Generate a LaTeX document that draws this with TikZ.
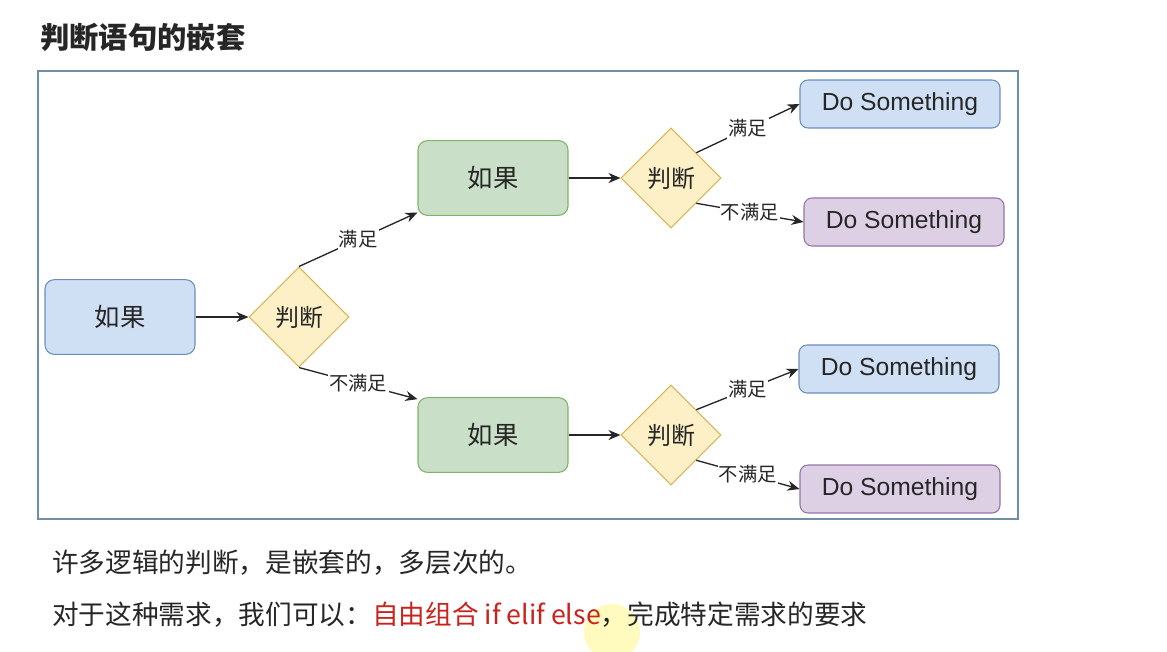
\documentclass[tikz,border=0pt]{standalone}
\usepackage{fontspec}
\setmainfont{Noto Sans CJK SC}
\newfontfamily\latinsans{Liberation Sans}
\usetikzlibrary{shapes.geometric,arrows.meta}
\definecolor{bluefill}{HTML}{D0E0F4}
\definecolor{bluedraw}{HTML}{6C8EBF}
\definecolor{greenfill}{HTML}{C9DFC8}
\definecolor{greendraw}{HTML}{82B366}
\definecolor{purplefill}{HTML}{DDD0E4}
\definecolor{purpledraw}{HTML}{9673A6}
\definecolor{yellowfill}{HTML}{FDEFC6}
\definecolor{yellowdraw}{HTML}{D6B656}
\definecolor{framecol}{HTML}{6F8FA8}
\definecolor{txt}{HTML}{262626}
\definecolor{redtxt}{HTML}{C8231C}
\tikzset{
  ifbox/.style={draw, rounded corners=7pt, line width=0.8pt, minimum width=112.5pt, minimum height=56pt, font=\fontsize{19}{22}\selectfont, text=txt},
  condbox/.style={draw=yellowdraw, fill=yellowfill, diamond, aspect=1, inner sep=0pt, line width=0.8pt, minimum width=75pt, minimum height=75pt, font=\fontsize{18}{21}\selectfont, text=txt},
  dobox/.style={draw, rounded corners=6pt, line width=0.8pt, minimum width=150pt, minimum height=36pt, font=\latinsans\fontsize{18.5}{21}\selectfont, text=txt},
  conn/.style={draw=black!85, line width=1pt, -{Stealth[length=9pt,width=7.5pt]}},
  lbl/.style={fill=white, inner sep=1pt, font=\fontsize{14.5}{16}\selectfont, text=txt}
}
\begin{document}
\begin{tikzpicture}[x=0.75pt,y=-0.75pt]
\useasboundingbox (0,0) rectangle (1167,651);
\fill[white] (0,0) rectangle (1167,651);
% title
\node[anchor=west, inner sep=0pt, font=\bfseries\fontsize{22}{26}\selectfont, text=txt] (title) at (40,37) {判断语句的嵌套};
% frame
\draw[framecol, line width=1.1pt] (38,71) rectangle (1018,519);
% nodes
\node[ifbox, draw=bluedraw, fill=bluefill] (b1) at (120,317) {如果};
\node[condbox] (d1) at (299,317) {判断};
\node[ifbox, draw=greendraw, fill=greenfill] (b2) at (493,178) {如果};
\node[ifbox, draw=greendraw, fill=greenfill] (b3) at (493,435) {如果};
\node[condbox] (d2) at (671,178) {判断};
\node[condbox] (d3) at (671,435) {判断};
\node[dobox, draw=bluedraw, fill=bluefill] (s1) at (900,104) {Do Something};
\node[dobox, draw=purpledraw, fill=purplefill] (s2) at (904,222) {Do Something};
\node[dobox, draw=bluedraw, fill=bluefill] (s3) at (899,369) {Do Something};
\node[dobox, draw=purpledraw, fill=purplefill] (s4) at (900,489) {Do Something};
% connectors
\draw[conn] (b1.east) -- (d1.west);
\draw[conn] (b2.east) -- (d2.west);
\draw[conn] (b3.east) -- (d3.west);
\draw[conn] (d1.north) -- node[lbl] {满足} ([yshift=2.5pt]b2.south west);
\draw[conn] (d1.south) -- node[lbl] {不满足} ([yshift=-1.5pt]b3.north west);
\draw[conn] (d2.north east) -- node[lbl] {满足} (s1.west);
\draw[conn] (d2.south east) -- node[lbl] {不满足} (s2.west);
\draw[conn] (d3.north east) -- node[lbl] {满足} (s3.west);
\draw[conn] (d3.south east) -- node[lbl] {不满足} (s4.west);
% cursor highlight
\fill[yellow!55, opacity=0.45] (612,632) circle (28);
% bottom text
\node[anchor=west, inner sep=0pt, font=\fontsize{20}{24}\selectfont, text=txt] (t1) at (52,563) {许多逻辑的判断，是嵌套的，多层次的。};
\node[anchor=west, inner sep=0pt, font=\fontsize{20}{24}\selectfont, text=txt] (t2) at (52,615) {对于这种需求，我们可以：\textcolor{redtxt}{自由组合 if elif else}，完成特定需求的要求};
\end{tikzpicture}
\end{document}
